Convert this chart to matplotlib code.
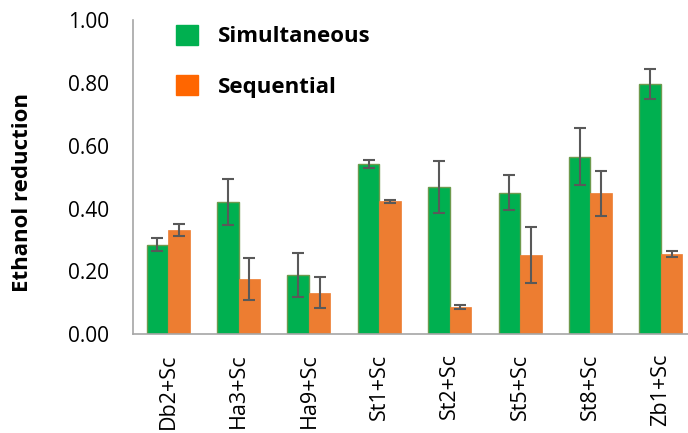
import numpy as np
import matplotlib
matplotlib.use('Agg')
import matplotlib.pyplot as plt
from matplotlib.patches import Patch

plt.rcParams['font.family'] = ['Open Sans', 'DejaVu Sans']

# Ethanol reduction per co-culture, mean and error
strains = ['Db2+Sc', 'Ha3+Sc', 'Ha9+Sc', 'St1+Sc', 'St2+Sc', 'St5+Sc', 'St8+Sc', 'Zb1+Sc']
simultaneous = [0.285, 0.421, 0.188, 0.541, 0.469, 0.451, 0.566, 0.797]
simultaneous_err = [0.020, 0.072, 0.070, 0.013, 0.083, 0.055, 0.092, 0.047]
sequential = [0.332, 0.176, 0.132, 0.424, 0.087, 0.252, 0.449, 0.256]
sequential_err = [0.020, 0.068, 0.049, 0.005, 0.006, 0.090, 0.072, 0.010]
yticks = [0.0, 0.2, 0.4, 0.6, 0.8, 1.0]

green = '#00B050'
orange = '#ED7D31'

fig = plt.figure(figsize=(6.88, 4.33), dpi=100)
ax = fig.add_axes([0.1933, 0.2286, 0.8183, 0.7241])

x = np.arange(len(strains))
w = 0.305
err_kw = dict(ecolor='#595959', elinewidth=1.5, capsize=4, capthick=1.5)
ax.bar(x - w / 2, simultaneous, w, yerr=simultaneous_err, color=green,
       edgecolor='#6E9A4E', linewidth=1.0, error_kw=err_kw, zorder=2)
ax.bar(x + w / 2, sequential, w, yerr=sequential_err, color=orange,
       edgecolor=orange, linewidth=0.5, error_kw=err_kw, zorder=2)

ax.set_xlim(-0.5, len(strains) - 0.5)
ax.set_ylim(0, 1.0)
ax.set_yticks(yticks)
ax.set_yticklabels([f'{v:.2f}' for v in yticks], fontsize=15)
ax.set_xticks(x)
ax.set_xticklabels(strains, rotation=90, fontsize=15.5)
ax.tick_params(axis='y', length=0, pad=17)
ax.tick_params(axis='x', length=0, pad=14)
ax.set_ylabel('Ethanol reduction', fontsize=16, fontweight='bold', va='center')
ax.yaxis.set_label_coords(-0.197, 0.45)

for side in ['top', 'right']:
    ax.spines[side].set_visible(False)
for side in ['left', 'bottom']:
    ax.spines[side].set_color('#A6A6A6')
    ax.spines[side].set_linewidth(1.2)

handles = [Patch(color=green, label='Simultaneous'),
           Patch(color='#FF6600', label='Sequential')]
leg = ax.legend(handles=handles, loc='upper left', bbox_to_anchor=(0.04, 1.05),
                frameon=False, prop={'size': 16, 'weight': 'bold'},
                handlelength=1.0, handleheight=1.0, handletextpad=0.9,
                labelspacing=1.25)

fig.savefig('out.png', dpi=100)
